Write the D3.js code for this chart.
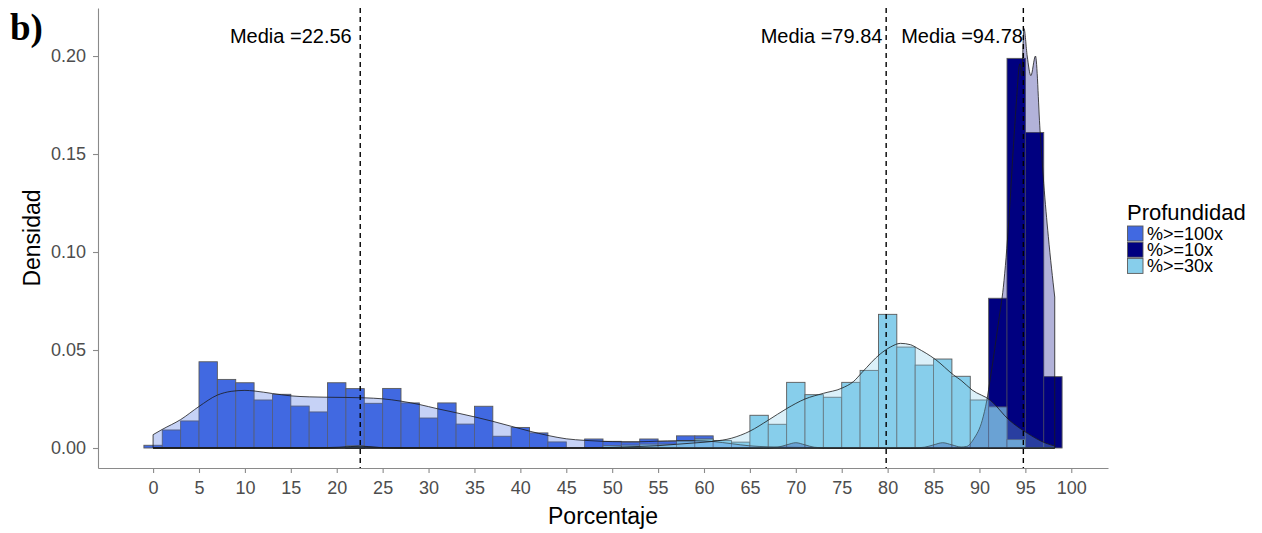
<!DOCTYPE html>
<html><head><meta charset="utf-8">
<script src="https://cdn.jsdelivr.net/npm/d3@7"></script>
<style>
html,body{margin:0;padding:0;background:#fff;}
svg{display:block;font-family:"Liberation Sans",Arial,sans-serif;}
</style></head><body>
<svg id="chart" width="1262" height="533"></svg>
<script>
// Coverage groups, drawn in this order
const seriesNames = ["%>=100x", "%>=10x", "%>=30x"];
const seriesColors = ["#4169E1", "#000080", "#87CEEB"];
const binWidth = 2;

// Histogram bins: [left edge, density]
const hist100x = [[-1,0.0014],[1,0.0092],[3,0.0138],[5,0.0440],[7,0.0350],[9,0.0333],[11,0.0245],[13,0.0274],
  [15,0.0214],[17,0.0184],[19,0.0333],[21,0.0303],[23,0.0228],[25,0.0304],[27,0.0230],[29,0.0153],[31,0.0230],
  [33,0.0122],[35,0.0213],[37,0.0060],[39,0.0105],[41,0.0077],[43,0.0031],[47,0.0046],[49,0.0034],[51,0.0030],
  [53,0.0046],[55,0.0034],[57,0.0062],[59,0.0062]];
const hist10x = [[21,0.0005],[91,0.0764],[93,0.1988],[95,0.1610],[97,0.0364]];
const hist30x = [[21,0.0012],[49,0.0012],[51,0.0015],[53,0.0020],[55,0.0020],[57,0.0037],[59,0.0046],[61,0.0038],
  [63,0.0030],[65,0.0167],[67,0.0121],[69,0.0335],[71,0.0272],[73,0.0259],[75,0.0335],[77,0.0396],[79,0.0682],
  [81,0.0515],[83,0.0423],[85,0.0454],[87,0.0366],[89,0.0245],[91,0.0210],[93,0.0043]];

// Kernel density estimates: [x, density]
const kde100x = [[0,0.0068],[1,0.0095],[3,0.0145],[5,0.0212],[7,0.0270],[8.5,0.0289],[10,0.0294],[11,0.0291],
  [13,0.0278],[15,0.0266],[17,0.0261],[19,0.0259],[21,0.0258],[23,0.0256],[25,0.0251],[27,0.0239],[29,0.0222],
  [31,0.0200],[33,0.0180],[35,0.0159],[37,0.0136],[39,0.0111],[41,0.0086],[43,0.0064],[45,0.0047],[47,0.0039],
  [49,0.0034],[51,0.0032],[53,0.0032],[55,0.0035],[57,0.0037],[59,0.0037],[61,0.0033],[63,0.0022],[65,0.0011],
  [67,0.0006],[69,0.0004],[72,0.0002],[76,0.0001],[80,0],[98.2,0]];
const kde10x = [[0,0],[19,0],[20.5,0.0003],[22.5,0.0010],[24.5,0.0003],[26,0],[66.5,0],[68,0.0004],[69,0.0016],
  [70,0.0027],[71,0.0016],[72,0.0004],[73.5,0],[82.5,0],[84,0.0004],[85,0.0016],[86,0.0027],[87,0.0016],[88,0.0005],
  [88.6,0.0008],[89.4,0.0048],[90.3,0.0141],[90.8,0.0243],[91.2,0.0360],[92.1,0.065],[92.6,0.082],[93.2,0.116],
  [93.7,0.154],[94.0,0.175],[94.4,0.196],[94.6,0.190],[94.85,0.214],[95.2,0.200],[95.6,0.190],[96.1,0.200],
  [96.6,0.162],[97.0,0.135],[97.5,0.108],[98.2,0.077]];
const kde30x = [[0,0],[17,0],[19.5,0.0003],[22,0.0006],[24.5,0.0003],[27,0],[47,0],[50,0.0003],[53,0.0008],
  [55,0.0012],[57,0.0019],[59,0.0026],[61,0.0034],[63,0.0050],[65,0.0086],[67,0.0142],[69,0.0201],[71,0.0250],
  [73,0.0279],[75,0.0305],[76.3,0.0340],[77.2,0.0385],[79.2,0.0480],[80.3,0.0515],[81.4,0.0534],[82.5,0.0527],
  [83.2,0.0510],[85.2,0.0452],[87.2,0.0372],[88,0.0345],[89.2,0.0296],[91.2,0.0243],[93.2,0.0144],[95.2,0.0076],
  [97.2,0.0025],[98.2,0.0010]];

// Group means and where their labels sit on the x axis
const means = [22.56, 79.84, 94.78];
const meanLabelX = [15, 72.8, 88.1];

const xTicks = [0,5,10,15,20,25,30,35,40,45,50,55,60,65,70,75,80,85,90,95,100];
const yTicks = [0, 0.05, 0.10, 0.15, 0.20];

const hists = [hist100x, hist10x, hist30x];
const kdes = [kde100x, kde10x, kde30x];

const svg = d3.select("#chart");
const panel = {left: 98, right: 1108, top: 8, bottom: 468};
const x = d3.scaleLinear().domain([-6, 104]).range([panel.left, panel.right]);
const y = d3.scaleLinear().domain([-0.0102, 0.2245]).range([panel.bottom, panel.top]);

// Histogram bars
hists.forEach((h, i) => {
  svg.append("g").selectAll("rect").data(h).join("rect")
    .attr("x", d => x(d[0]))
    .attr("width", d => x(d[0] + binWidth) - x(d[0]))
    .attr("y", d => y(d[1]))
    .attr("height", d => y(0) - y(d[1]))
    .attr("fill", seriesColors[i])
    .attr("stroke", "#5a5a5a")
    .attr("stroke-width", 0.9);
});

// Density areas
const area = d3.area()
  .x(d => x(d[0]))
  .y0(y(0))
  .y1(d => y(d[1]))
  .curve(d3.curveMonotoneX);
kdes.forEach((k, i) => {
  svg.append("path").datum(k)
    .attr("d", area)
    .attr("fill", seriesColors[i])
    .attr("fill-opacity", 0.3)
    .attr("stroke", "#1a1a1a")
    .attr("stroke-width", 0.8);
});

// Mean lines and labels
means.forEach((m, i) => {
  svg.append("line")
    .attr("x1", x(m)).attr("x2", x(m))
    .attr("y1", panel.top).attr("y2", panel.bottom)
    .attr("stroke", "#000").attr("stroke-width", 1.4)
    .attr("stroke-dasharray", "5,4");
  svg.append("text")
    .attr("x", x(meanLabelX[i])).attr("y", 43)
    .attr("text-anchor", "middle")
    .attr("font-size", 20).attr("fill", "#000")
    .text("Media =" + m.toFixed(2));
});

// Axes
const axisColor = "#8a8a8a";
const gx = svg.append("g").attr("transform", `translate(0,${panel.bottom})`)
  .call(d3.axisBottom(x).tickValues(xTicks).tickSize(5).tickSizeOuter(0).tickPadding(8).tickFormat(d3.format("d")));
const gy = svg.append("g").attr("transform", `translate(${panel.left},0)`)
  .call(d3.axisLeft(y).tickValues(yTicks).tickSize(5).tickSizeOuter(0).tickPadding(7).tickFormat(d3.format(".2f")));
[gx, gy].forEach(g => {
  g.select(".domain").attr("stroke", axisColor).attr("stroke-width", 1.1);
  g.selectAll(".tick line").attr("stroke", axisColor).attr("stroke-width", 1.1);
  g.selectAll(".tick text").attr("fill", "#4d4d4d").attr("font-size", 18)
    .attr("font-family", '"Liberation Sans", Arial, sans-serif');
});

// Axis titles
svg.append("text")
  .attr("x", (panel.left + panel.right) / 2).attr("y", 523.5)
  .attr("text-anchor", "middle").attr("font-size", 23).attr("fill", "#000")
  .text("Porcentaje");
svg.append("text")
  .attr("transform", `translate(39.5,${(panel.top + panel.bottom) / 2}) rotate(-90)`)
  .attr("text-anchor", "middle").attr("font-size", 23).attr("fill", "#000")
  .text("Densidad");

// Panel tag
svg.append("text")
  .attr("x", 10).attr("y", 40)
  .attr("font-family", '"Liberation Serif", "Times New Roman", serif')
  .attr("font-weight", "bold").attr("font-size", 37).attr("fill", "#000")
  .text("b)");

// Legend
const legend = svg.append("g").attr("transform", "translate(1127,0)");
legend.append("text").attr("x", 0).attr("y", 220)
  .attr("font-size", 22).attr("fill", "#000").text("Profundidad");
seriesNames.forEach((name, i) => {
  const top = 226 + i * 16.2;
  legend.append("rect")
    .attr("x", 0.5).attr("y", top)
    .attr("width", 15.5).attr("height", 15)
    .attr("fill", seriesColors[i])
    .attr("stroke", "#5a5a5a").attr("stroke-width", 0.9);
  legend.append("text")
    .attr("x", 20).attr("y", top + 7.5 + 6.4)
    .attr("font-size", 18).attr("fill", "#000")
    .text(name);
});
</script>
</body></html>
